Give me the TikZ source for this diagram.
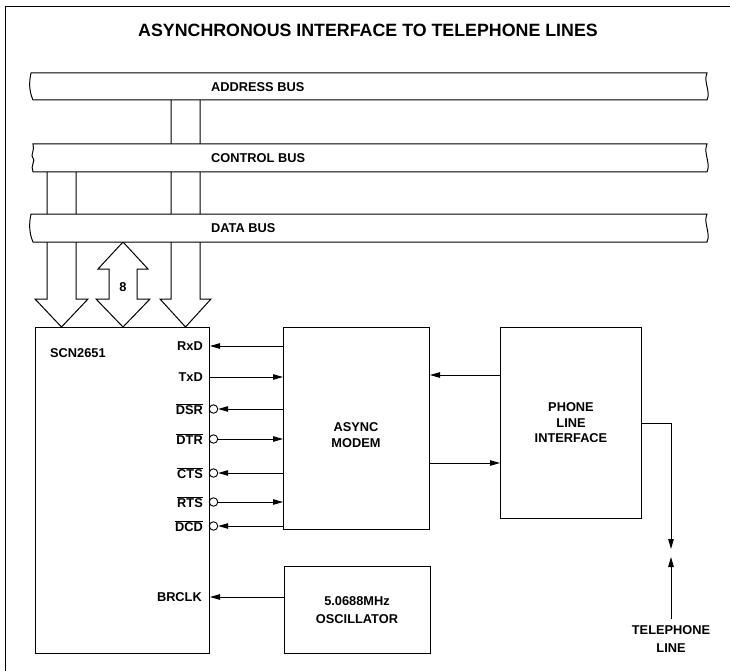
\documentclass[tikz,border=0pt]{standalone}
\usepackage{fontspec}
\setmainfont{Liberation Sans}
\usetikzlibrary{arrows.meta}
\newcommand{\ovl}[1]{$\overline{\mbox{#1}}$}
\begin{document}
\begin{tikzpicture}[x=1pt,y=-1pt,
  every node/.style={font=\fontsize{12.8}{15.5}\selectfont\bfseries, inner sep=0pt},
  box/.style={draw, line width=1pt, anchor=north west},
  bus/.style={draw, line width=1pt, fill=white},
  fat/.style={draw, line width=1pt, line join=miter},
  arr/.style={line width=0.9pt, -{Triangle[length=10pt,width=5.5pt]}},
  bubble/.style={draw, circle, line width=0.9pt, minimum size=8.5pt, inner sep=0pt},
  pinlbl/.style={anchor=east},
  lbl/.style={align=center}]
\useasboundingbox (0,0) rectangle (730,671);
% frame
\draw[line width=1pt] (5,671) -- (5,7) -- (730,7);
\node[font=\fontsize{17.8}{20}\selectfont\bfseries] (title) at (368,30) {ASYNCHRONOUS INTERFACE TO TELEPHONE LINES};
% fat bus arrows (drawn first, buses cover them)
\draw[fat] (47,172) -- (47,299) -- (35,299) -- (61.5,327) -- (88,299) -- (76,299) -- (76,172);
\draw[fat] (171,100) -- (171,299) -- (160,299) -- (185.5,327) -- (211,299) -- (200,299) -- (200,100);
\draw[fat] (123,242) -- (148,269) -- (137,269) -- (137,299) -- (150,299) -- (123,327) -- (96,299) -- (109,299) -- (109,269) -- (98,269) -- cycle;
\node (eight) at (123,287) {8};
% buses
\draw[bus] (31,73) -- (707,73) .. controls (703,82) and (711,91) .. (707,100) -- (33,100) .. controls (29,91) and (29,82) .. (31,73) -- cycle;
\draw[bus] (33,144) -- (707,144) .. controls (703,153) and (711,163) .. (707,172) -- (33,172) .. controls (30,166) and (36,160) .. (33,158) .. controls (30,156) and (35,150) .. (33,144) -- cycle;
\draw[bus] (31,214) -- (707,214) .. controls (703,223) and (711,233) .. (707,242) -- (33,242) .. controls (29,233) and (29,223) .. (31,214) -- cycle;
\node[anchor=west] (abus) at (211,87) {ADDRESS BUS};
\node[anchor=west] (cbus) at (211,158) {CONTROL BUS};
\node[anchor=west] (dbus) at (211,228) {DATA BUS};
% blocks
\node[box, minimum width=174pt, minimum height=326pt] (scn) at (35,327) {};
\node[box, minimum width=146pt, minimum height=202pt] (modem) at (283,327) {};
\node[box, minimum width=141pt, minimum height=191pt] (phone) at (500,327) {};
\node[box, minimum width=146pt, minimum height=87pt] (osc) at (284,566) {};
\node[anchor=west] (scnlbl) at (50,353) {SCN2651};
\node[lbl] (modlbl) at (356,435) {ASYNC\\MODEM};
\node[lbl] (phlbl) at (phone.center) {PHONE\\LINE\\INTERFACE};
\node[lbl, font=\fontsize{12.8}{18}\selectfont\bfseries] (osclbl) at (357,610) {5.0688MHz\\OSCILLATOR};
% pin labels
\node[pinlbl] (rxd) at (203,346) {RxD};
\node[pinlbl] (txd) at (203,377) {TxD};
\node[pinlbl] (dsr) at (203,409) {\ovl{DSR}};
\node[pinlbl] (dtr) at (203,439) {\ovl{DTR}};
\node[pinlbl] (cts) at (203,473) {\ovl{CTS}};
\node[pinlbl] (rts) at (203,502) {\ovl{RTS}};
\node[pinlbl] (dcd) at (203,526) {\ovl{DCD}};
\node[pinlbl] (brclk) at (202,597) {BRCLK};
% bubbles
\node[bubble] (bdsr) at (213.5,409) {};
\node[bubble] (bdtr) at (213.5,439) {};
\node[bubble] (bcts) at (213.5,473) {};
\node[bubble] (brts) at (213.5,502) {};
\node[bubble] (bdcd) at (213.5,526) {};
% signal connectors
\draw[arr] (modem.west |- rxd) -- (scn.east |- rxd);
\draw[arr] (scn.east |- txd) -- (modem.west |- txd);
\draw[arr] (modem.west |- bdsr) -- (bdsr.east);
\draw[arr] (bdtr.east) -- (modem.west |- bdtr);
\draw[arr] (modem.west |- bcts) -- (bcts.east);
\draw[arr] (brts.east) -- (modem.west |- brts);
\draw[arr] (modem.west |- bdcd) -- (bdcd.east);
\draw[arr] (osc.west |- brclk) -- (scn.east |- brclk);
\draw[arr] (phone.west |- 0,375) -- (modem.east |- 0,375);
\draw[arr] (modem.east |- 0,463) -- (phone.west |- 0,463);
% telephone line
\node[lbl, font=\fontsize{12.8}{18}\selectfont\bfseries] (tel) at (671,639) {TELEPHONE\\LINE};
\coordinate (tdown) at (671,549);
\coordinate (tup) at (671,557);
\draw[arr] (phone.east) -| (tdown);
\draw[arr] ([yshift=6pt]tel.north) -- (tup);
\end{tikzpicture}
\end{document}
